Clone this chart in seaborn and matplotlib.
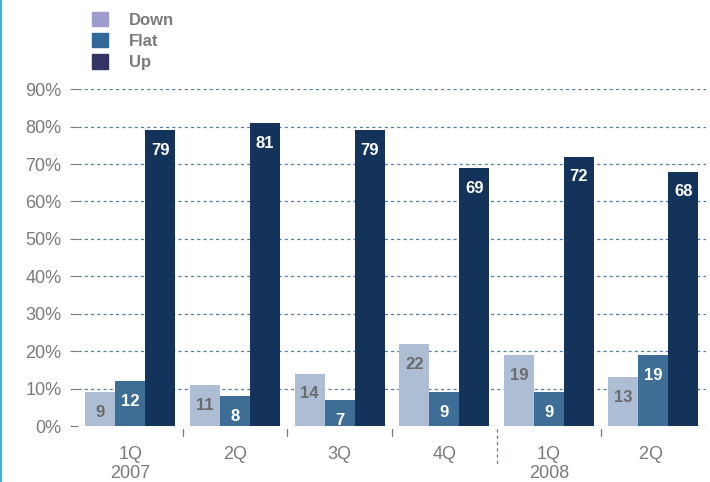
import matplotlib
matplotlib.use("Agg")
import matplotlib.pyplot as plt
import matplotlib.patches as mpatches
import seaborn as sns
import pandas as pd
import numpy as np

quarters = ["1Q\n2007", "2Q", "3Q", "4Q", "1Q\n2008", "2Q "]
series = ["Down", "Flat", "Up"]
down = [9, 11, 14, 22, 19, 13]
flat = [12, 8, 7, 9, 9, 19]
up = [79, 81, 79, 69, 72, 68]
yticks = [0, 10, 20, 30, 40, 50, 60, 70, 80, 90]

bar_colors = ["#adbdd3", "#3e6e96", "#14335b"]
legend_colors = ["#9e9ccc", "#336699", "#333366"]
label_colors = ["#6b6b6b", "white", "white"]

df = pd.DataFrame({
    "quarter": quarters * 3,
    "series": [s for s in series for _ in quarters],
    "value": down + flat + up,
})

sns.set_theme(style="white")
plt.rcParams["font.family"] = ["Liberation Sans", "DejaVu Sans"]

fig = plt.figure(figsize=(7.10, 4.82), dpi=100)
ax = fig.add_axes([0.110, 0.116, 0.884, 0.699])

sns.barplot(data=df, x="quarter", y="value", hue="series", order=quarters,
            hue_order=series, palette=bar_colors, width=0.86, gap=0,
            saturation=1, ax=ax, legend=False, zorder=3, linewidth=0)

ax.set_ylim(0, 90)
ax.set_xlim(-0.5, len(quarters) - 0.5)
ax.set_yticks(yticks)
ax.set_yticklabels([f"{t}%" for t in yticks], fontsize=13, color="#7a7a7a")
ax.set_xlabel("")
ax.set_ylabel("")
for s in ax.spines.values():
    s.set_visible(False)

# gridlines
for t in yticks:
    ax.axhline(t, color="#4f7fa8", linestyle=(0, (2.5, 2.5)), linewidth=0.9, zorder=1)

ax.tick_params(axis="y", length=6, width=0.8, color="#7a7a7a", pad=6, left=True)
ax.tick_params(axis="x", length=0, pad=14, labelsize=13, labelcolor="#7a7a7a")

# group separator ticks
trans = ax.get_xaxis_transform()
for b in np.arange(0.5, len(quarters) - 0.5, 1):
    if abs(b - 3.5) < 1e-6:
        ax.plot([b, b], [-0.01, -0.115], transform=trans, color="#4f7fa8",
                linestyle=(0, (2.5, 2.5)), linewidth=0.9, clip_on=False)
    else:
        ax.plot([b, b], [-0.01, -0.03], transform=trans, color="#7a7a7a",
                linewidth=0.9, clip_on=False)

# bar labels
for container, col in zip(ax.containers, label_colors):
    ax.bar_label(container, labels=[f"{v:.0f}" for v in container.datavalues],
                 label_type="edge", padding=-20, color=col, fontsize=12,
                 fontweight="bold")

# legend
handles = [mpatches.Patch(color=c, label=s) for c, s in zip(legend_colors, series)]
leg = fig.legend(handles=handles, loc="upper left", bbox_to_anchor=(0.108, 1.007),
                 frameon=False, fontsize=12, handlelength=0.95, handleheight=0.95,
                 handletextpad=1.3, labelspacing=0.32)
for t in leg.get_texts():
    t.set_color("#7a7a7a")
    t.set_fontweight("bold")

# left border
fig.add_artist(plt.Line2D([0.002, 0.002], [0, 1], color="#3cb4e0", linewidth=1.5))

fig.savefig("out.png", dpi=100)
